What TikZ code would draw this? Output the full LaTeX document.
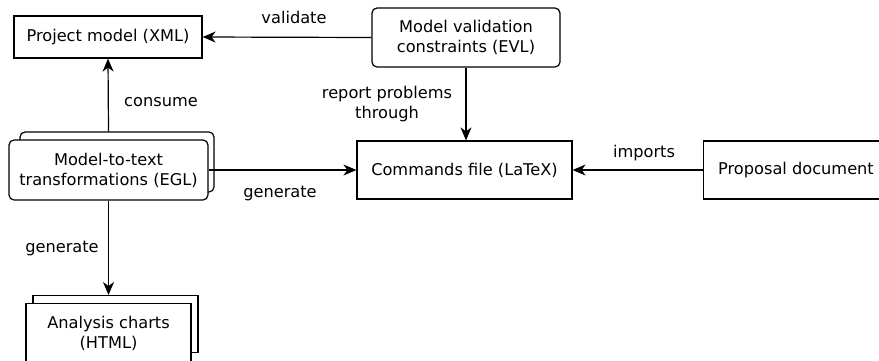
\documentclass[tikz,border=0pt]{standalone}
\usepackage{fontspec}
\setmainfont{DejaVu Sans}
\usetikzlibrary{arrows.meta,positioning}
\begin{document}
\begin{tikzpicture}[x=1pt,y=-1pt,
  every node/.style={font=\fontsize{16.2}{20}\selectfont},
  box/.style={draw,line width=1.2pt,minimum height=40pt,align=center,inner sep=0pt},
  rbox/.style={box,rounded corners=5pt},
  lbl/.style={align=center,inner sep=0pt},
  conn/.style={line width=1.2pt,-{Stealth[length=13pt,width=11pt,inset=4pt]}}]
\useasboundingbox (0,0) rectangle (879,360);
% Project model
\node[box,minimum width=188pt,minimum height=42pt] (pm) at (108,37) {Project model (XML)};
% Model validation
\node[rbox,minimum width=188pt,minimum height=59pt] (mv) at (466,37.5) {Model validation\\constraints (EVL)};
% Model-to-text stacked
\node[rbox,fill=white,minimum width=194pt,minimum height=60pt] (m2tb) at (117,162) {};
\node[rbox,fill=white,minimum width=199pt,minimum height=60pt] (m2t) at (108.5,170) {Model-to-text\\transformations (EGL)};
% Commands file
\node[box,minimum width=215pt,minimum height=58pt] (cf) at (464.5,170) {Commands file (LaTeX)};
% Proposal document
\node[box,minimum width=200pt,minimum height=58pt,anchor=west] (pd) at (703,170) {};
\node[lbl] (pdt) at (796,170) {Proposal document};
% Analysis charts stacked
\node[box,fill=white,minimum width=165pt,minimum height=57pt,anchor=north] (acb) at (115.5,295) {};
\node[box,fill=white,minimum width=165pt,minimum height=62pt,anchor=north] (ac) at (108.5,303) {};
\node[lbl] (act) at (108.5,333) {Analysis charts\\(HTML)};
% connectors
\draw[conn] (mv.west) -- (pm.east);
\draw[conn] (m2tb.north -| m2t.north) -- (pm.south);
\draw[conn] (m2t.east) -- (cf.west);
\draw[conn] (mv.south) -- (mv.south |- cf.north);
\draw[conn] (pd.west) -- (cf.east);
\draw[conn] (m2t.south) -- (m2t.south |- acb.north);
% labels
\node[lbl] (l1) at (294,17) {validate};
\node[lbl] (l2) at (161,102) {consume};
\node[lbl] (l3) at (280,193) {generate};
\node[lbl] (l4) at (387,104) {report problems\\through};
\node[lbl] (l5) at (644,153) {imports};
\node[lbl] (l6) at (62,248) {generate};
\end{tikzpicture}
\end{document}
